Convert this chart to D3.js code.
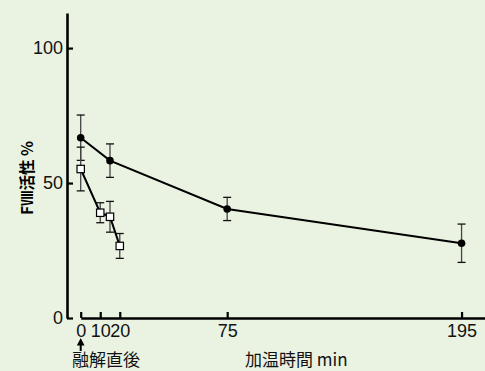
<!DOCTYPE html>
<html lang="ja">
<head>
    <meta charset="UTF-8">
    <title>FVIII activity</title>
    <script src="https://d3js.org/d3.v7.min.js"></script>
    <style>
        body { margin: 0; }
        svg { display: block; }
    </style>
</head>
<body>
    <script>
    // heated samples (filled circles)
    const heatTimes = [0, 15, 75, 195];
    const heatValues = [66.8, 58.3, 40.4, 27.7];
    const heatErr = [8.4, 6.2, 4.3, 7.1];

    // second series (open squares)
    const sqTimes = [0, 10, 15, 20];
    const sqValues = [55.2, 39.0, 37.5, 26.7];
    const sqErr = [8.1, 3.7, 5.7, 4.6];

    const xTicks = [0, 10, 20, 75, 195];
    const yTicks = [0, 50, 100];

    const W = 485, H = 371;

    const svg = d3.select("body").append("svg")
        .attr("width", W)
        .attr("height", H);

    svg.append("rect")
        .attr("width", W).attr("height", H)
        .attr("fill", "#eaf3e1");

    const x = d3.scaleLinear().domain([0, 207]).range([80.7, 485]);
    const y = d3.scaleLinear().domain([0, 113]).range([318, 13]);

    const font = "'Liberation Sans', Arial, sans-serif";

    // y axis
    const yAxis = svg.append("g")
        .attr("transform", "translate(67,0)")
        .call(d3.axisLeft(y).tickValues(yTicks).tickSize(-6).tickSizeOuter(0).tickPadding(4));
    yAxis.select(".domain").attr("stroke-width", 2.6);
    yAxis.selectAll(".tick line").attr("stroke-width", 2.2);
    yAxis.selectAll("text").attr("font-family", font).attr("font-size", 18).attr("fill", "#111");

    // x axis
    const xAxis = svg.append("g")
        .attr("transform", "translate(0,318)")
        .call(d3.axisBottom(x).tickValues(xTicks).tickSize(-6).tickSizeOuter(0).tickPadding(6));
    xAxis.select(".domain").attr("stroke-width", 2.6);
    xAxis.selectAll(".tick line").attr("stroke-width", 2.2);
    xAxis.selectAll("text").attr("font-family", font).attr("font-size", 18).attr("fill", "#111");

    function errorBars(times, values, errs) {
        const g = svg.append("g");
        times.forEach((t, i) => {
            const cx = x(t);
            const top = y(values[i] + errs[i]);
            const bot = y(values[i] - errs[i]);
            g.append("line").attr("x1", cx).attr("x2", cx)
                .attr("y1", top).attr("y2", bot)
                .attr("stroke", "#444").attr("stroke-width", 1.3);
            [top, bot].forEach(yy => {
                g.append("line").attr("x1", cx - 4).attr("x2", cx + 4)
                    .attr("y1", yy).attr("y2", yy)
                    .attr("stroke", "#111").attr("stroke-width", 1.3);
            });
        });
    }

    errorBars(heatTimes, heatValues, heatErr);
    errorBars(sqTimes, sqValues, sqErr);

    const line = d3.line().x(d => x(d[0])).y(d => y(d[1]));

    svg.append("path")
        .datum(d3.zip(heatTimes, heatValues))
        .attr("d", line)
        .attr("fill", "none").attr("stroke", "#000").attr("stroke-width", 2);

    svg.append("path")
        .datum(d3.zip(sqTimes, sqValues))
        .attr("d", line)
        .attr("fill", "none").attr("stroke", "#000").attr("stroke-width", 2);

    svg.selectAll("circle.heat")
        .data(d3.zip(heatTimes, heatValues))
        .enter().append("circle")
        .attr("cx", d => x(d[0]))
        .attr("cy", d => y(d[1]))
        .attr("r", 3.8)
        .attr("fill", "#000");

    svg.selectAll("rect.sq")
        .data(d3.zip(sqTimes, sqValues))
        .enter().append("rect")
        .attr("x", d => x(d[0]) - 3.7)
        .attr("y", d => y(d[1]) - 3.7)
        .attr("width", 7.4).attr("height", 7.4)
        .attr("fill", "#fff").attr("stroke", "#000").attr("stroke-width", 1.2);

    // y axis title
    svg.append("text")
        .attr("transform", "translate(33,178) rotate(-90)")
        .attr("text-anchor", "middle")
        .attr("font-family", "'Noto Sans CJK JP', sans-serif")
        .attr("font-weight", "bold")
        .attr("font-size", 15.5)
        .text("FⅧ活性 %");

    // arrow under 0
    const ax = x(0);
    svg.append("line")
        .attr("x1", ax).attr("x2", ax).attr("y1", 344).attr("y2", 351)
        .attr("stroke", "#000").attr("stroke-width", 2);
    svg.append("path")
        .attr("d", `M${ax},338L${ax - 3.8},345.5L${ax + 3.8},345.5Z`)
        .attr("fill", "#000");

    svg.append("text")
        .attr("x", 72).attr("y", 365.5)
        .attr("font-family", "'Noto Sans CJK JP', sans-serif")
        .attr("font-size", 17)
        .attr("fill", "#111")
        .text("融解直後");

    svg.append("text")
        .attr("x", 245).attr("y", 365.5)
        .attr("font-family", "'Noto Sans CJK JP', sans-serif")
        .attr("font-size", 17)
        .attr("fill", "#111")
        .text("加温時間 min");
    </script>
</body>
</html>
